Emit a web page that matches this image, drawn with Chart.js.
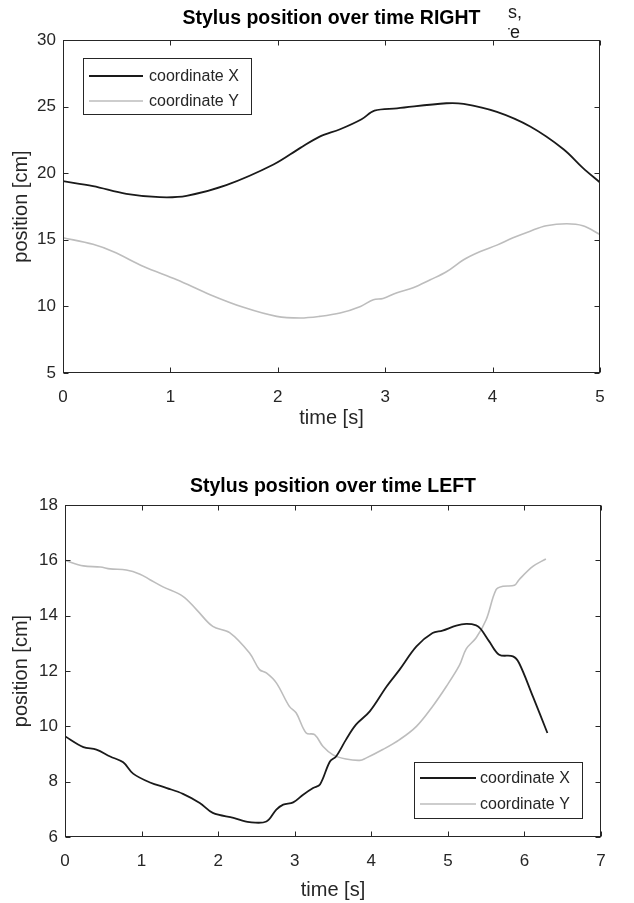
<!DOCTYPE html>
<html><head><meta charset="utf-8">
<script src="https://cdn.jsdelivr.net/npm/chart.js@4.4.1/dist/chart.umd.min.js"></script>
<style>
html,body{margin:0;padding:0;background:#fff;width:634px;height:903px;overflow:hidden;position:relative;font-family:"Liberation Sans",Arial,sans-serif;}
#c1{position:absolute;left:0;top:0;}
#c2{position:absolute;left:0;top:455px;}
.stray{position:absolute;left:508px;width:126px;overflow:hidden;font-size:18px;color:#1a1a1a;white-space:nowrap;line-height:20px;}
</style></head><body>
<canvas id="c1" width="634" height="450"></canvas>
<canvas id="c2" width="634" height="448"></canvas>
<div class="stray" style="top:2px">s,</div>
<div class="stray" style="top:22px"><span style="margin-left:-4px">re</span></div>
<script>
// ---------- DATA ----------
const seriesNames = ['coordinate X', 'coordinate Y'];

// RIGHT chart
const rightTimeX = [0, 0.28, 0.59, 0.90, 1.15, 1.52, 1.96, 2.21, 2.39, 2.58, 2.78, 2.90, 3.11, 3.57, 3.73, 4.04, 4.35, 4.66, 4.84, 5.0];
const rightX     = [19.4, 19.03, 18.45, 18.2, 18.3, 19.1, 20.65, 21.9, 22.75, 23.3, 24.05, 24.7, 24.87, 25.25, 25.2, 24.6, 23.5, 21.8, 20.4, 19.3];
const rightTimeY = [0, 0.28, 0.47, 0.75, 1.06, 1.37, 1.68, 1.99, 2.21, 2.39, 2.58, 2.77, 2.89, 2.98, 3.11, 3.26, 3.42, 3.57, 3.73, 3.88, 4.04, 4.19, 4.35, 4.50, 4.69, 4.84, 5.0];
const rightY     = [15.15, 14.66, 14.1, 13.0, 12.0, 10.88, 9.93, 9.25, 9.13, 9.25, 9.5, 10.0, 10.5, 10.6, 11.03, 11.4, 12.0, 12.6, 13.5, 14.1, 14.6, 15.15, 15.65, 16.05, 16.2, 16.05, 15.4];
const rightXTicks = [0, 1, 2, 3, 4, 5];
const rightYTicks = [5, 10, 15, 20, 25, 30];

// LEFT chart
const leftTimeX = [0, 0.24, 0.41, 0.59, 0.76, 0.89, 1.11, 1.33, 1.54, 1.76, 1.93, 2.20, 2.41, 2.63, 2.76, 2.85, 2.98, 3.11, 3.24, 3.33, 3.46, 3.54, 3.67, 3.80, 3.98, 4.20, 4.37, 4.59, 4.80, 4.93, 5.11, 5.24, 5.37, 5.43, 5.54, 5.67, 5.85, 5.93, 6.11, 6.30];
const leftX     = [9.64, 9.25, 9.16, 8.91, 8.70, 8.29, 7.97, 7.77, 7.56, 7.23, 6.87, 6.69, 6.54, 6.56, 6.99, 7.17, 7.25, 7.53, 7.77, 7.9, 8.73, 8.91, 9.52, 10.06, 10.54, 11.44, 12.05, 12.89, 13.37, 13.46, 13.64, 13.70, 13.65, 13.52, 13.07, 12.59, 12.53, 12.29, 11.08, 9.76];
const leftTimeY = [0, 0.24, 0.46, 0.59, 0.80, 0.98, 1.11, 1.28, 1.54, 1.72, 1.93, 2.15, 2.41, 2.54, 2.63, 2.76, 2.93, 3.02, 3.15, 3.26, 3.37, 3.50, 3.67, 3.85, 3.93, 4.15, 4.37, 4.59, 4.80, 4.98, 5.15, 5.24, 5.37, 5.50, 5.63, 5.72, 5.87, 5.93, 6.11, 6.28];
const leftY     = [16.0, 15.8, 15.76, 15.69, 15.65, 15.5, 15.3, 15.04, 14.7, 14.21, 13.61, 13.39, 12.65, 12.05, 11.93, 11.57, 10.72, 10.48, 9.76, 9.70, 9.27, 8.97, 8.82, 8.77, 8.85, 9.16, 9.52, 10.0, 10.72, 11.44, 12.2, 12.8, 13.2, 13.85, 14.94, 15.06, 15.1, 15.3, 15.78, 16.05];
const leftXTicks = [0, 1, 2, 3, 4, 5, 6, 7];
const leftYTicks = [6, 8, 10, 12, 14, 16, 18];

// ---------- HELPERS ----------
const FONT = '"Liberation Sans", Arial, Helvetica, sans-serif';
const AXC = '#262626';
const zip = (t, v) => t.map((tt, i) => ({x: tt, y: v[i]}));

const framePlugin = {
  id: 'frame',
  afterDraw(chart, args, opts) {
    const {ctx, chartArea: a, scales: {x, y}} = chart;
    ctx.save();
    ctx.strokeStyle = AXC; ctx.lineWidth = 1;
    const l = Math.round(a.left) + 0.5, r = Math.round(a.right) - 0.5;
    const t = Math.round(a.top) + 0.5, b = Math.round(a.bottom) - 0.5;
    ctx.strokeRect(l, t, r - l, b - t);
    const L = 5;
    ctx.beginPath();
    x.ticks.forEach(tk => {
      const px = Math.round(x.getPixelForValue(tk.value)) + 0.5;
      ctx.moveTo(px, b); ctx.lineTo(px, b - L);
      ctx.moveTo(px, t); ctx.lineTo(px, t + L);
    });
    y.ticks.forEach(tk => {
      const py = Math.round(y.getPixelForValue(tk.value)) + 0.5;
      ctx.moveTo(l, py); ctx.lineTo(l + L, py);
      ctx.moveTo(r, py); ctx.lineTo(r - L, py);
    });
    ctx.stroke();
    // legend
    const lg = opts.legend;
    if (lg) {
      ctx.fillStyle = '#fff';
      ctx.fillRect(lg.x, lg.y, lg.w, lg.h);
      ctx.strokeStyle = AXC; ctx.lineWidth = 1;
      ctx.strokeRect(lg.x + 0.5, lg.y + 0.5, lg.w, lg.h);
      ctx.font = '16px ' + FONT;
      ctx.textBaseline = 'middle'; ctx.textAlign = 'left';
      chart.data.datasets.forEach((ds, i) => {
        const ry = lg.y + lg.rows[i];
        ctx.strokeStyle = ds.borderColor; ctx.lineWidth = ds.borderWidth;
        ctx.beginPath(); ctx.moveTo(lg.x + 6, ry); ctx.lineTo(lg.x + 6 + lg.sample, ry); ctx.stroke();
        ctx.fillStyle = AXC;
        ctx.fillText(ds.label, lg.x + lg.textX, ry + 1);
      });
    }
    ctx.restore();
  }
};

function makeChart(id, cfg) {
  return new Chart(document.getElementById(id), {
    type: 'line',
    data: {
      datasets: [
        {label: seriesNames[0], data: zip(cfg.tx, cfg.vx), borderColor: '#1a1a1a', borderWidth: 1.8, pointRadius: 0, tension: 0.35, fill: false},
        {label: seriesNames[1], data: zip(cfg.ty, cfg.vy), borderColor: '#bdbdbd', borderWidth: 1.6, pointRadius: 0, tension: 0.35, fill: false}
      ]
    },
    options: {
      responsive: false, animation: false, devicePixelRatio: 1,
      layout: {padding: {left: 0, right: cfg.padRight, top: 0, bottom: 0}},
      plugins: {
        legend: {display: false}, tooltip: {enabled: false},
        title: {display: true, fullSize: false, text: cfg.title, color: '#000', font: {family: FONT, size: 19.5, weight: 'bold', lineHeight: 1.2}, padding: cfg.titlePad},
        frame: {legend: cfg.legend}
      },
      scales: {
        x: {
          type: 'linear', min: cfg.xTicks[0], max: cfg.xTicks[cfg.xTicks.length - 1],
          afterBuildTicks: s => { s.ticks = cfg.xTicks.map(v => ({value: v})); },
          afterFit: s => { s.height = cfg.xH; },
          grid: {display: false, drawTicks: false}, border: {display: false},
          ticks: {color: AXC, font: {family: FONT, size: 17}, padding: 14, maxRotation: 0, autoSkip: false},
          title: {display: true, text: 'time [s]', color: AXC, font: {family: FONT, size: 20, lineHeight: 1.2}, padding: {top: 0, bottom: cfg.xTitlePadB}}
        },
        y: {
          type: 'linear', min: cfg.yTicks[0], max: cfg.yTicks[cfg.yTicks.length - 1],
          afterBuildTicks: s => { s.ticks = cfg.yTicks.map(v => ({value: v})); },
          afterFit: s => { s.width = cfg.yW; },
          grid: {display: false, drawTicks: false}, border: {display: false},
          ticks: {color: AXC, font: {family: FONT, size: 17}, padding: 7, autoSkip: false},
          title: {display: true, text: 'position [cm]', color: AXC, font: {family: FONT, size: 20, lineHeight: 1.2}, padding: {top: 9, bottom: 0}}
        }
      }
    },
    plugins: [framePlugin]
  });
}

makeChart('c1', {
  title: 'Stylus position over time RIGHT',
  tx: rightTimeX, vx: rightX, ty: rightTimeY, vy: rightY,
  xTicks: rightXTicks, yTicks: rightYTicks,
  padRight: 34, yW: 63, xH: 77, xTitlePadB: 20,
  titlePad: {top: 7, bottom: 9.6},
  legend: {x: 83, y: 58, w: 168, h: 56, rows: [18, 43], sample: 54, textX: 66}
});

makeChart('c2', {
  title: 'Stylus position over time LEFT',
  tx: leftTimeX, vx: leftX, ty: leftTimeY, vy: leftY,
  xTicks: leftXTicks, yTicks: leftYTicks,
  padRight: 33, yW: 65, xH: 66, xTitlePadB: 0.6,
  titlePad: {top: 19.5, bottom: 7.1},
  legend: {x: 414, y: 307, w: 168, h: 56, rows: [16, 42], sample: 56, textX: 66}
});
</script>
</body></html>
